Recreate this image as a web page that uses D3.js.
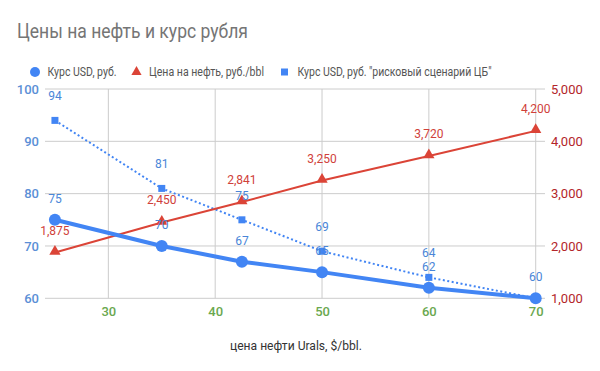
<!DOCTYPE html>
<html><head><meta charset="utf-8">
<script src="https://cdn.jsdelivr.net/npm/d3@7"></script>
<style>body{margin:0;background:#fff;}svg{display:block;font-family:Roboto,"Noto Sans",sans-serif;}</style>
</head><body>
<svg id="c" width="600" height="371"></svg>
<script>
const oilPrice = [25, 35, 42.5, 50, 60, 70];
const usdRate = [75, 70, 67, 65, 62, 60];
const oilRub = [1875, 2450, 2841, 3250, 3720, 4200];
const usdRisk = [94, 81, 75, 69, 64, 60];
const xTicks = [30, 40, 50, 60, 70];
const yLeftTicks = [60, 70, 80, 90, 100];
const yRightTicks = [1000, 2000, 3000, 4000, 5000];
const seriesNames = ["Курс USD, руб.", "Цена на нефть, руб./bbl", "Курс USD, руб. \"рисковый сценарий ЦБ\""];

const blue = "#4285f4", red = "#db4437";
const svg = d3.select("#c");
const x = d3.scaleLinear().domain([24.07, 70.87]).range([45, 545]);
const yL = d3.scaleLinear().domain([60, 100]).range([298.3, 89]);
const yR = d3.scaleLinear().domain([1000, 5000]).range([298.3, 89]);

// title
svg.append("text").attr("x", 17).attr("y", 38).attr("font-size", 20).attr("fill", "#757575")
  .attr("textLength", 231).attr("lengthAdjust", "spacingAndGlyphs").text("Цены на нефть и курс рубля");

// grid
const g = svg.append("g");
g.selectAll(".h").data(yLeftTicks).join("line").attr("x1", 45).attr("x2", 545)
  .attr("y1", d => yL(d)).attr("y2", d => yL(d)).attr("stroke", "#cccccc").attr("stroke-width", 1);
g.selectAll(".v").data(xTicks).join("line").attr("y1", 89).attr("y2", 298.3)
  .attr("x1", d => x(d)).attr("x2", d => x(d)).attr("stroke", "#cccccc").attr("stroke-width", 1);

// axes
const axL = svg.append("g").attr("transform", "translate(45,0)")
  .call(d3.axisLeft(yL).tickValues(yLeftTicks).tickSize(0).tickPadding(6));
axL.select(".domain").remove();
axL.selectAll("text").attr("font-size", 13).attr("font-weight", 500).attr("fill", "#5b8fd6").attr("font-family", "Roboto");

const axR = svg.append("g").attr("transform", "translate(545,0)")
  .call(d3.axisRight(yR).tickValues(yRightTicks).tickSize(0).tickPadding(6).tickFormat(d3.format(",")));
axR.select(".domain").remove();
axR.selectAll("text").attr("font-size", 13).attr("fill", "#b3262a").attr("font-family", "Roboto");

const axB = svg.append("g").attr("transform", "translate(0,298.3)")
  .call(d3.axisBottom(x).tickValues(xTicks).tickSize(0).tickPadding(8));
axB.select(".domain").remove();
axB.selectAll("text").attr("font-size", 13).attr("font-weight", 500).attr("fill", "#6aa84f").attr("font-family", "Roboto");

svg.append("text").attr("x", 230).attr("y", 350).attr("font-size", 12)
  .attr("textLength", 132).attr("lengthAdjust", "spacingAndGlyphs")
  .attr("fill", "#333").text("цена нефти Urals, $/bbl.");

// lines
const idx = d3.range(oilPrice.length);
svg.append("path").datum(idx).attr("fill", "none").attr("stroke", blue).attr("stroke-width", 2)
  .attr("stroke-dasharray", "2,2.5")
  .attr("d", d3.line().x(i => x(oilPrice[i])).y(i => yL(usdRisk[i])));
svg.append("path").datum(idx).attr("fill", "none").attr("stroke", red).attr("stroke-width", 2)
  .attr("d", d3.line().x(i => x(oilPrice[i])).y(i => yR(oilRub[i])));
svg.append("path").datum(idx).attr("fill", "none").attr("stroke", blue).attr("stroke-width", 4)
  .attr("stroke-linejoin", "round")
  .attr("d", d3.line().x(i => x(oilPrice[i])).y(i => yL(usdRate[i])));

// markers
const tri = d3.symbol().type(d3.symbolTriangle).size(55);
svg.selectAll(".sq").data(idx).join("rect")
  .attr("x", i => x(oilPrice[i]) - 3.5).attr("y", i => yL(usdRisk[i]) - 3.5)
  .attr("width", 7).attr("height", 7).attr("fill", blue);
svg.selectAll(".tr").data(idx).join("path")
  .attr("transform", i => `translate(${x(oilPrice[i])},${yR(oilRub[i]) - 1})`)
  .attr("d", tri).attr("fill", red);
svg.selectAll(".ci").data(idx).join("circle")
  .attr("cx", i => x(oilPrice[i])).attr("cy", i => yL(usdRate[i])).attr("r", 6).attr("fill", blue);

// labels
function labels(vals, yScale, color, fmt, off) {
  svg.append("g").selectAll("text").data(idx).join("text")
    .attr("x", i => x(oilPrice[i])).attr("y", i => yScale(vals[i]) - off)
    .attr("text-anchor", "middle").attr("font-size", 12).attr("fill", color)
    .text(i => fmt(vals[i]));
}
labels(usdRisk.slice(0, 5).concat([null]), yL, "#4a86d8", d => d == null ? "" : d, 20);
labels(oilRub, yR, "#d0413a", d3.format(","), 18);
labels(usdRate, yL, "#4a86d8", d => d, 17);

// legend
const lg = svg.append("g");
lg.append("circle").attr("cx", 35).attr("cy", 72).attr("r", 5).attr("fill", blue);
lg.append("text").attr("x", 47.5).attr("y", 76).attr("font-size", 12).attr("fill", "#555")
  .attr("textLength", 69).attr("lengthAdjust", "spacingAndGlyphs").text(seriesNames[0]);
lg.append("path").attr("transform", "translate(136.5,72)").attr("d", d3.symbol().type(d3.symbolTriangle).size(45)).attr("fill", red);
lg.append("text").attr("x", 149).attr("y", 76).attr("font-size", 12).attr("fill", "#555")
  .attr("textLength", 115).attr("lengthAdjust", "spacingAndGlyphs").text(seriesNames[1]);
lg.append("rect").attr("x", 281).attr("y", 68.5).attr("width", 7).attr("height", 7).attr("fill", blue);
lg.append("text").attr("x", 297.5).attr("y", 76).attr("font-size", 12).attr("fill", "#555")
  .attr("textLength", 194).attr("lengthAdjust", "spacingAndGlyphs").text(seriesNames[2]);
</script>
</body></html>
